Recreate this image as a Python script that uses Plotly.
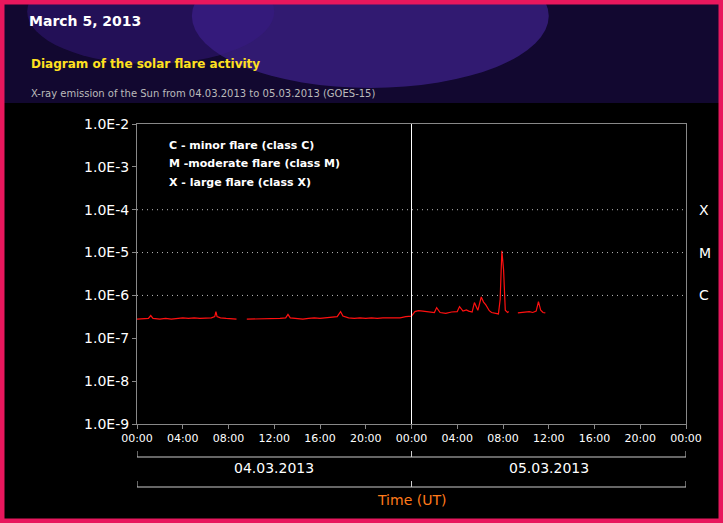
import math
import plotly.graph_objects as go

# GOES-15 X-ray flux, hours from 04.03.2013 00:00 UT (None = data gap)
hours = [0, 0.5, 1.0, 1.2, 1.4, 2, 2.5, 3, 3.5, 4, 4.5, 5, 5.5, 6, 6.5, 6.8, 6.9, 7.0, 7.3, 7.8, 8.2, 8.7,
         8.8,
         9.6, 10, 10.5, 11, 11.5, 12, 12.5, 13, 13.2, 13.4, 14, 14.5, 15, 15.5, 16, 16.5, 17, 17.5, 17.8, 18.0,
         18.5, 19, 19.5, 20, 20.5, 21, 21.5, 22, 22.5, 23, 23.5, 24,
         24.3, 24.6, 25, 25.5, 26, 26.2, 26.5, 27, 27.5, 28, 28.2, 28.5, 28.8, 29, 29.3, 29.5, 29.8, 30.1,
         30.3, 30.5, 30.8, 31, 31.3, 31.6, 31.75, 31.9, 32.05, 32.2, 32.4, 32.5,
         32.7,
         33.3, 33.6, 34, 34.3, 34.6, 34.9, 35.1, 35.3, 35.5, 35.7]
flux = [2.8e-7, 2.8e-7, 2.9e-7, 3.4e-7, 2.9e-7, 2.8e-7, 2.9e-7, 2.8e-7, 2.9e-7, 3.0e-7, 2.9e-7, 3.0e-7, 2.9e-7,
        3.0e-7, 3.0e-7, 3.2e-7, 4.2e-7, 3.2e-7, 3.0e-7, 2.9e-7, 2.9e-7, 2.8e-7,
        None,
        2.8e-7, 2.8e-7, 2.9e-7, 2.9e-7, 2.8e-7, 2.9e-7, 2.9e-7, 3.0e-7, 3.6e-7, 3.0e-7, 2.9e-7, 2.8e-7, 2.9e-7,
        3.0e-7, 2.9e-7, 3.0e-7, 3.0e-7, 3.2e-7, 4.2e-7, 3.3e-7, 3.0e-7, 2.9e-7, 3.0e-7, 2.9e-7, 3.0e-7,
        2.9e-7, 3.0e-7, 3.0e-7, 3.1e-7, 3.0e-7, 3.2e-7, 3.3e-7,
        4.2e-7, 4.4e-7, 4.3e-7, 4.2e-7, 4.0e-7, 5.2e-7, 4.0e-7, 3.8e-7, 4.1e-7, 4.2e-7, 5.5e-7, 4.3e-7, 4.6e-7,
        4.3e-7, 4.1e-7, 6.8e-7, 4.5e-7, 9.2e-7, 7.0e-7, 6.0e-7, 4.4e-7, 4.0e-7, 3.9e-7, 3.7e-7, 8.0e-7,
        1.1e-5, 4.0e-6, 4.5e-7, 4.0e-7, 4.2e-7,
        None,
        3.9e-7, 4.0e-7, 4.1e-7, 4.2e-7, 4.0e-7, 4.3e-7, 7.2e-7, 4.5e-7, 4.0e-7, 3.9e-7]

tick_vals = list(range(0, 49, 4))
tick_text = ['%02d:00' % (h % 24) for h in tick_vals]
y_vals = [1e-9, 1e-8, 1e-7, 1e-6, 1e-5, 1e-4, 1e-3, 1e-2]
y_text = ['1.0E-9', '1.0E-8', '1.0E-7', '1.0E-6', '1.0E-5', '1.0E-4', '1.0E-3', '1.0E-2']
classes = [('C', 1e-6), ('M', 1e-5), ('X', 1e-4)]
days = [('04.03.2013', 12), ('05.03.2013', 36)]


def py(pixel):
    # page pixel row -> paper y (plot area spans rows 124..424)
    return (424 - pixel) / 300


fig = go.Figure()
fig.add_trace(go.Scatter(x=hours, y=flux, mode='lines', line=dict(color='#ff1010', width=1.2),
                         connectgaps=False, showlegend=False, hoverinfo='skip'))

shapes = []
# header band
shapes.append(dict(type='rect', xref='paper', yref='paper', x0=-0.25, x1=1.07, y0=1.07, y1=1.42,
                   fillcolor='#120830', line_width=0, layer='below'))
shapes.append(dict(type='circle', xref='paper', yref='paper', x0=0.1, x1=0.75, y0=1.12, y1=1.6,
                   fillcolor='#4a2aa8', opacity=0.55, line_width=0, layer='below'))
shapes.append(dict(type='circle', xref='paper', yref='paper', x0=-0.2, x1=0.25, y0=1.2, y1=1.55,
                   fillcolor='#3a1a88', opacity=0.45, line_width=0, layer='below'))
for name, v in classes:
    shapes.append(dict(type='line', xref='paper', x0=0, x1=1, y0=v, y1=v,
                       line=dict(color='#bbbbbb', width=1, dash='1px,4px')))
shapes.append(dict(type='line', x0=24, x1=24, yref='paper', y0=0, y1=1, line=dict(color='white', width=1)))
# day and time bands under the axis
for yp in [py(457), py(487)]:
    shapes.append(dict(type='line', x0=0, x1=48, yref='paper', y0=yp, y1=yp, line=dict(color='#cccccc', width=1)))
    for xv in [0, 24, 48]:
        shapes.append(dict(type='line', x0=xv, x1=xv, yref='paper', y0=yp, y1=yp + 0.02,
                           line=dict(color='#cccccc', width=1)))

annotations = []
for name, v in classes:
    annotations.append(dict(text=name, xref='paper', x=1.02, y=math.log10(v), yref='y', showarrow=False,
                            xanchor='left', font=dict(color='white', size=14)))
for label, xv in days:
    annotations.append(dict(text=label, x=xv, xref='x', yref='paper', y=py(468), yanchor='middle',
                            showarrow=False, font=dict(color='white', size=14)))
annotations.append(dict(text='Time (UT)', x=24, xref='x', yref='paper', y=py(500), yanchor='middle',
                        showarrow=False, font=dict(color='#ff7a1a', size=14)))
legend_lines = ['C - minor flare (class C)', 'M -moderate flare (class M)', 'X - large flare (class X)']
for i, t in enumerate(legend_lines):
    annotations.append(dict(text='<b>' + t + '</b>', xref='paper', x=0.055, yref='paper',
                            y=py(145 + 18.5 * i), yanchor='middle', showarrow=False, xanchor='left',
                            font=dict(color='white', size=11)))
annotations.append(dict(text='<b>March 5, 2013</b>', xref='paper', x=-0.2, yref='paper', y=py(21),
                        yanchor='middle', showarrow=False, xanchor='left', font=dict(color='white', size=14)))
annotations.append(dict(text='<b>Diagram of the solar flare activity</b>', xref='paper', x=-0.197,
                        yref='paper', y=py(64), yanchor='middle', showarrow=False, xanchor='left',
                        font=dict(color='#ffe020', size=12)))
annotations.append(dict(text='X-ray emission of the Sun from 04.03.2013 to 05.03.2013 (GOES-15)', xref='paper',
                        x=-0.197, yref='paper', y=py(94), yanchor='middle', showarrow=False, xanchor='left',
                        font=dict(color='#bbbbbb', size=10)))

fig.update_layout(
    width=723, height=523, margin=dict(l=137, r=37, t=124, b=99),
    paper_bgcolor='black', plot_bgcolor='black',
    font=dict(family='DejaVu Sans', color='white'),
    shapes=shapes, annotations=annotations,
    xaxis=dict(range=[0, 48], tickvals=tick_vals, ticktext=tick_text, showgrid=False, zeroline=False,
               showline=True, linecolor='#888888', mirror=True, ticks='outside', tickcolor='#888888',
               ticklen=4, tickfont=dict(size=11, color='white')),
    yaxis=dict(type='log', range=[-9, -2], tickvals=y_vals, ticktext=y_text, showgrid=False, zeroline=False,
               showline=True, linecolor='#888888', mirror=True, ticks='outside', tickcolor='#888888',
               ticklen=4, tickfont=dict(size=14, color='white')),
)
# pink frame
fig.add_shape(type='rect', xref='paper', yref='paper', x0=-135 / 549, x1=1 + 35 / 549, y0=-97 / 300,
              y1=1 + 122 / 300, line=dict(color='#e8175d', width=5))
fig.write_html("out.html", config={'displayModeBar': False}, post_script="document.body.style.margin='0';")
